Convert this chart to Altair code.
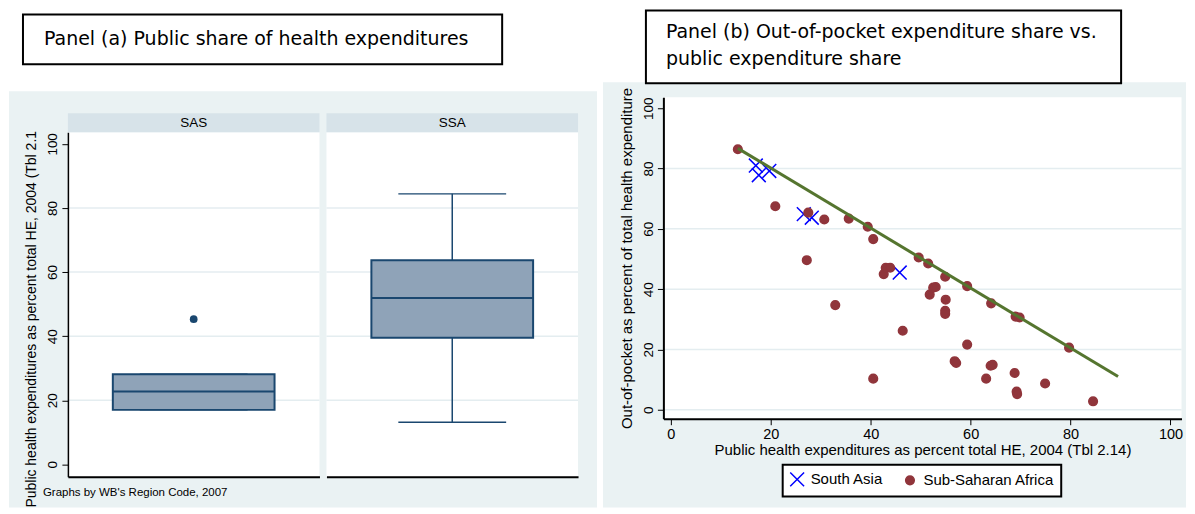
import altair as alt
import pandas as pd

# ---------------- Panel (a): box plots of public share of health expenditure ----------------
regions = ["SAS", "SSA"]
box_q1 = [17.0, 39.5]
box_median = [22.7, 51.9]
box_q3 = [28.1, 63.7]
whisker_low = [17.0, 13.1]
whisker_high = [28.1, 84.4]
outlier_region = ["SAS"]
outlier_value = [45.3]
grid_a = [20, 40, 60, 80]
ticks_a = [0, 20, 40, 60, 80, 100]

# ---------------- Panel (b): out-of-pocket share vs public share ----------------
sa_public = [17.0, 17.6, 19.7, 26.6, 28.2, 45.8]
sa_oop = [81.0, 77.8, 79.2, 64.9, 63.7, 45.5]
ssa_public = [13.4, 20.9, 27.5, 27.2, 30.7, 32.9, 35.6, 39.4, 40.5, 40.5,
              42.6, 43.0, 43.9, 46.4, 49.6, 51.5, 51.8, 52.5, 53.0, 54.9,
              55.0, 54.9, 54.9, 56.8, 57.1, 59.3, 59.3, 63.1, 64.1, 64.0,
              64.4, 68.8, 69.0, 69.8, 69.2, 69.3, 74.9, 79.7, 84.5]
ssa_oop = [86.4, 67.5, 65.4, 49.6, 63.1, 34.7, 63.4, 60.7, 56.6, 10.3,
           45.0, 47.1, 47.1, 26.2, 50.5, 48.5, 38.2, 40.5, 40.7, 44.1,
           36.5, 32.8, 31.8, 16.1, 15.5, 41.0, 21.6, 10.3, 35.3, 14.6,
           14.9, 12.2, 30.9, 30.6, 6.0, 5.2, 8.7, 20.6, 2.8]
fit_public = [13.4, 89.5]
fit_oop = [86.7, 11.0]
grid_b = [0, 20, 40, 60, 80]
ticks_b = [0, 20, 40, 60, 80, 100]
groups = ["South Asia", "Sub-Saharan Africa"]

# ---------------- styling ----------------
BG = "#eaf2f3"
STRIP = "#d7e3e9"
GRID = "#e4edf0"
NAVY = "#1a476f"
BOXFILL = "#8fa3b8"
MAROON = "#90353b"
GREEN = "#55752f"
BLUE = "#0000ff"
ARIAL = "Liberation Sans"
TAHOMA = "DejaVu Sans"
XPATH = "M-1.6,-1.6L1.6,1.6M-1.6,1.6L1.6,-1.6"

one = pd.DataFrame({"k": [0]})


def rect(x1, x2, y1, y2, fill, stroke="", sw=0):
    kw = dict(fill=fill)
    if stroke:
        kw.update(stroke=stroke, strokeWidth=sw)
    return alt.Chart(one).mark_rect(**kw).encode(
        x=alt.value(x1), x2=alt.value(x2), y=alt.value(y1), y2=alt.value(y2))


def label(x, y, txt, size, font, align="left", angle=0, baseline="middle"):
    kw = dict(text=txt, fontSize=size, font=font, align=align,
              baseline=baseline, color="black")
    if angle:
        kw["angle"] = angle
    return alt.Chart(one).mark_text(**kw).encode(x=alt.value(x), y=alt.value(y))


WA, HA = 252, 380
yscale_a = alt.Scale(domain=[-3.83, 103.64], range=[380, 35], nice=False, zero=False)
xscale_a = alt.Scale(paddingInner=0, paddingOuter=0.2778)
xaxis_a = alt.Axis(title=None, labels=False, ticks=False, domain=True,
                   domainWidth=2, grid=False, zindex=1)


def box_panel(i, first):
    r = regions[i]
    if first:
        yaxis = alt.Axis(title=None, values=ticks_a, grid=False, tickSize=6,
                         labelAngle=270, labelAlign="center", labelBaseline="bottom",
                         labelPadding=2, labelFontSize=13.5, domainWidth=1.5,
                         zindex=1, labelFlush=False, labelOverlap=False)
    else:
        yaxis = None

    def Y(f):
        return alt.Y(f, type="quantitative", scale=yscale_a, axis=yaxis)

    X = alt.X("region:N", scale=xscale_a, axis=xaxis_a)
    stats = pd.DataFrame({"region": [r], "q1": [box_q1[i]], "med": [box_median[i]],
                          "q3": [box_q3[i]], "lo": [whisker_low[i]], "hi": [whisker_high[i]]})
    outl = pd.DataFrame({"region": outlier_region, "v": outlier_value})
    outl = outl[outl["region"] == r]
    grid = pd.DataFrame({"g": grid_a})

    if first:
        bg = rect(-59, 255.5, -6, 411, BG)
    else:
        bg = rect(-3.5, 271, -6, 411, BG)
    layers = [bg,
              rect(0, WA, 35, HA, "white"),
              rect(0, WA, 16, 35, STRIP),
              alt.Chart(stats).mark_text(font=ARIAL, fontSize=13.5, color="black",
                                         baseline="middle").encode(
                  text="region:N", x=alt.value(WA / 2), y=alt.value(25.5)),
              alt.Chart(grid).mark_rule(color=GRID, strokeWidth=1.5).encode(
                  y=Y("g"), x=alt.value(0), x2=alt.value(WA)),
              alt.Chart(stats).mark_rule(color=NAVY, strokeWidth=1.5).encode(
                  x=X, y=Y("lo"), y2=alt.Y2("q1")),
              alt.Chart(stats).mark_rule(color=NAVY, strokeWidth=1.5).encode(
                  x=X, y=Y("q3"), y2=alt.Y2("hi")),
              alt.Chart(stats).mark_tick(color=NAVY, size=108, thickness=1.5, opacity=1).encode(
                  x=X, y=Y("lo")),
              alt.Chart(stats).mark_tick(color=NAVY, size=108, thickness=1.5, opacity=1).encode(
                  x=X, y=Y("hi")),
              alt.Chart(stats).mark_bar(fill=BOXFILL, stroke=NAVY, strokeWidth=2).encode(
                  x=X, y=Y("q1"), y2=alt.Y2("q3")),
              alt.Chart(stats).mark_tick(color=NAVY, size=162, thickness=2, opacity=1).encode(
                  x=X, y=Y("med")),
              ]
    if len(outl):
        layers.append(alt.Chart(outl).mark_point(filled=True, color=NAVY, size=60, opacity=1).encode(
            x=X, y=Y("v")))
    if first:
        layers += [
            rect(-45, 435, -83, -33, "white", "black", 2),
            label(-24, -58, "Panel (a) Public share of health expenditures", 19, TAHOMA),
            label(-36, 411, "Public health expenditures as percent total HE, 2004 (Tbl 2.1",
                  14, ARIAL, angle=270),
            label(-25, 396, "Graphs by WB's Region Code, 2007", 11.5, ARIAL),
        ]
    return alt.layer(*layers).properties(width=WA, height=HA)


sas = box_panel(0, True)
ssa = box_panel(1, False)

# ---------------- Panel (b) ----------------
WB, HB = 598, 322
xscale_b = alt.Scale(domain=[-1.5, 102.2], range=[78.5, 597.5], nice=False, zero=False)
yscale_b = alt.Scale(domain=[-2.98, 103.64], nice=False, zero=False)
xaxis_b = alt.Axis(title="Public health expenditures as percent total HE, 2004 (Tbl 2.14)",
                   values=ticks_b, grid=False, tickSize=6, labelFontSize=14.5, titleFontSize=15,
                   labelPadding=3, titlePadding=1, domainWidth=2, zindex=1,
                   labelFlush=False, labelOverlap=False)
yaxis_b = alt.Axis(title="Out-of-pocket as percent of total health expenditure",
                   values=ticks_b, grid=False, tickSize=6, offset=-78.5,
                   labelAngle=270, labelAlign="center", labelBaseline="bottom",
                   labelPadding=2, labelFontSize=13.5, titleFontSize=15, titlePadding=7,
                   domainWidth=2, zindex=1, labelFlush=False, labelOverlap=False)

pts = pd.DataFrame({
    "public": sa_public + ssa_public,
    "oop": sa_oop + ssa_oop,
    "group": [groups[0]] * len(sa_public) + [groups[1]] * len(ssa_public),
})
fit = pd.DataFrame({"public": fit_public, "oop": fit_oop})
gridb = pd.DataFrame({"g": grid_b})

leg = alt.Legend(orient="none", legendX=716, legendY=368, direction="horizontal",
                 title=None, strokeColor="black", fillColor="white", padding=7,
                 columnPadding=19, labelOffset=6, labelFont=ARIAL, labelFontSize=15,
                 labelColor="black", symbolSize=75, symbolStrokeWidth=1.5)

XB = alt.X("public:Q", scale=xscale_b, axis=xaxis_b)
YB = alt.Y("oop:Q", scale=yscale_b, axis=yaxis_b)

points = alt.Chart(pts).mark_point(filled=True, size=75, strokeWidth=1.5, opacity=1).encode(
    x=XB, y=YB,
    shape=alt.Shape("group:N", scale=alt.Scale(domain=groups, range=[XPATH, "circle"]), legend=leg),
    fill=alt.Fill("group:N", scale=alt.Scale(domain=groups, range=["transparent", MAROON]), legend=leg),
    stroke=alt.Stroke("group:N", scale=alt.Scale(domain=groups, range=[BLUE, MAROON]), legend=leg),
)
line = alt.Chart(fit).mark_line(color=GREEN, strokeWidth=3).encode(x=XB, y=YB)
gridlines = alt.Chart(gridb).mark_rule(color=GRID, strokeWidth=1.5).encode(
    y=alt.Y("g:Q", scale=yscale_b, axis=yaxis_b), x=alt.value(78.5), x2=alt.value(597.5))

panel_b = alt.layer(
    rect(18, 602, -15, 411, BG),
    rect(61, 537, -87, -14, "white", "black", 2),
    label(81, -65, "Panel (b) Out-of-pocket expenditure share vs.", 19, TAHOMA),
    label(81, -38, "public expenditure share", 19, TAHOMA),
    rect(78.5, 597.5, 0, HB, "white"),
    gridlines,
    points,
    line,
).properties(width=WB, height=HB)

chart = alt.hconcat(sas, ssa, panel_b, spacing=7, bounds="flush").properties(
    padding=0
).configure_view(stroke="transparent").configure_axis(
    labelFont=ARIAL, titleFont=ARIAL, labelColor="black", titleColor="black",
    domainColor="black", tickColor="black", titleFontWeight="normal"
).configure_legend(strokeWidth=2)

chart.save("out.html", embed_options={"renderer": "svg", "actions": False})
